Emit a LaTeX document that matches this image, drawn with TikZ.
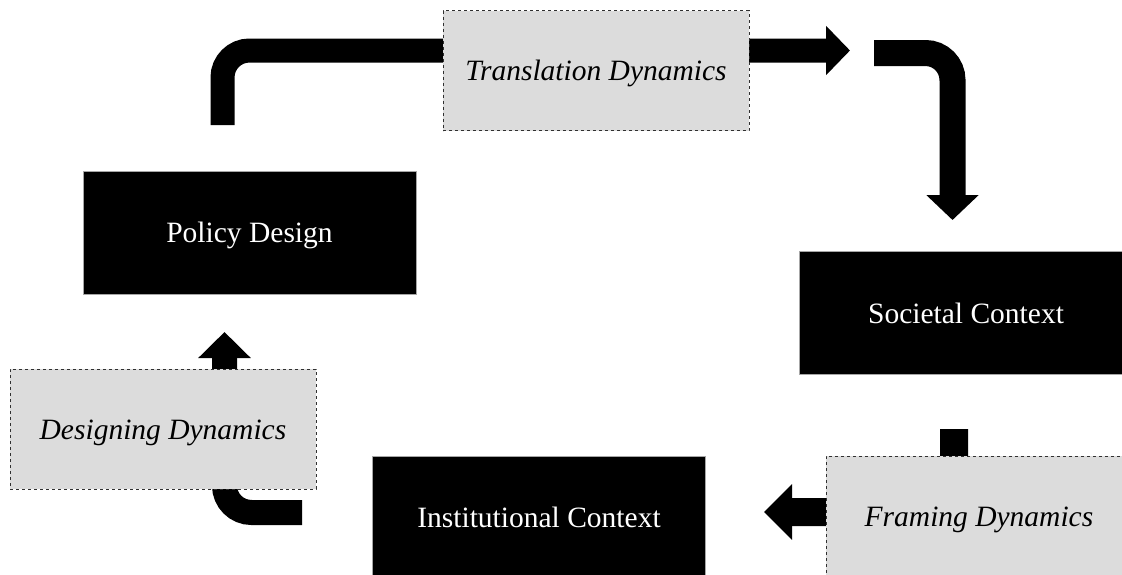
\documentclass[tikz,border=0pt]{standalone}
\usepackage{fontspec}
\setmainfont{Liberation Serif}
\usetikzlibrary{arrows.meta,backgrounds}
\definecolor{dynfill}{HTML}{DCDCDC}
\definecolor{dynline}{HTML}{303030}
\begin{document}
\begin{tikzpicture}[x=1pt,y=-1pt,
  ctxbox/.style={draw=gray!70,line width=0.8pt,fill=black,text=white,minimum width=333pt,minimum height=123pt,inner sep=0pt,text height=20pt,text depth=0pt,font=\fontsize{29.5}{34}\selectfont},
  dynbox/.style={draw=dynline,dashed,line width=0.8pt,fill=dynfill,minimum width=306pt,minimum height=120pt,inner sep=0pt,text height=20pt,text depth=0pt,font=\fontsize{29.5}{34}\selectfont\itshape},
  flow/.style={draw=black,line cap=butt,rounded corners=27pt}]
\useasboundingbox (0,0) rectangle (1122,574);
\clip (0,0) rectangle (1122,574);
% context boxes
\node[ctxbox] (pd) at (249.5,232.5) {Policy Design};
\node[ctxbox] (sc) at (966,313) {Societal Context};
\node[ctxbox] (ic) at (539,517.5) {Institutional Context};
% dynamics boxes
\node[dynbox] (td) at (596,70.5) {Translation Dynamics};
\node[dynbox] (dd) at (163,429) {Designing Dynamics};
\node[dynbox] (fd) at (979,516) {Framing Dynamics};
% free ends of the connectors
\coordinate (t1) at (222.5,125);
\coordinate (t2) at (850,50.5);
\coordinate (r1) at (874,53);
\coordinate (r2) at (952.5,220);
\coordinate (f1) at (954,429);
\coordinate (f2) at (764,512);
\coordinate (d1) at (302,512.5);
\coordinate (d2) at (224.5,332);
\begin{scope}[on background layer]
\draw[flow,line width=24pt,-{Triangle[width=48pt,length=24pt]}]
  (t1) |- (t2);
\draw[flow,line width=26pt,-{Triangle[width=51pt,length=25pt]}]
  (r1) -| (r2);
\draw[flow,line width=28pt,-{Triangle[width=54pt,length=28pt]}]
  (f1) |- (f2);
\draw[flow,line width=25pt,-{Triangle[width=51pt,length=26pt]}]
  (d1) -| (d2);
\end{scope}
\end{tikzpicture}
\end{document}
